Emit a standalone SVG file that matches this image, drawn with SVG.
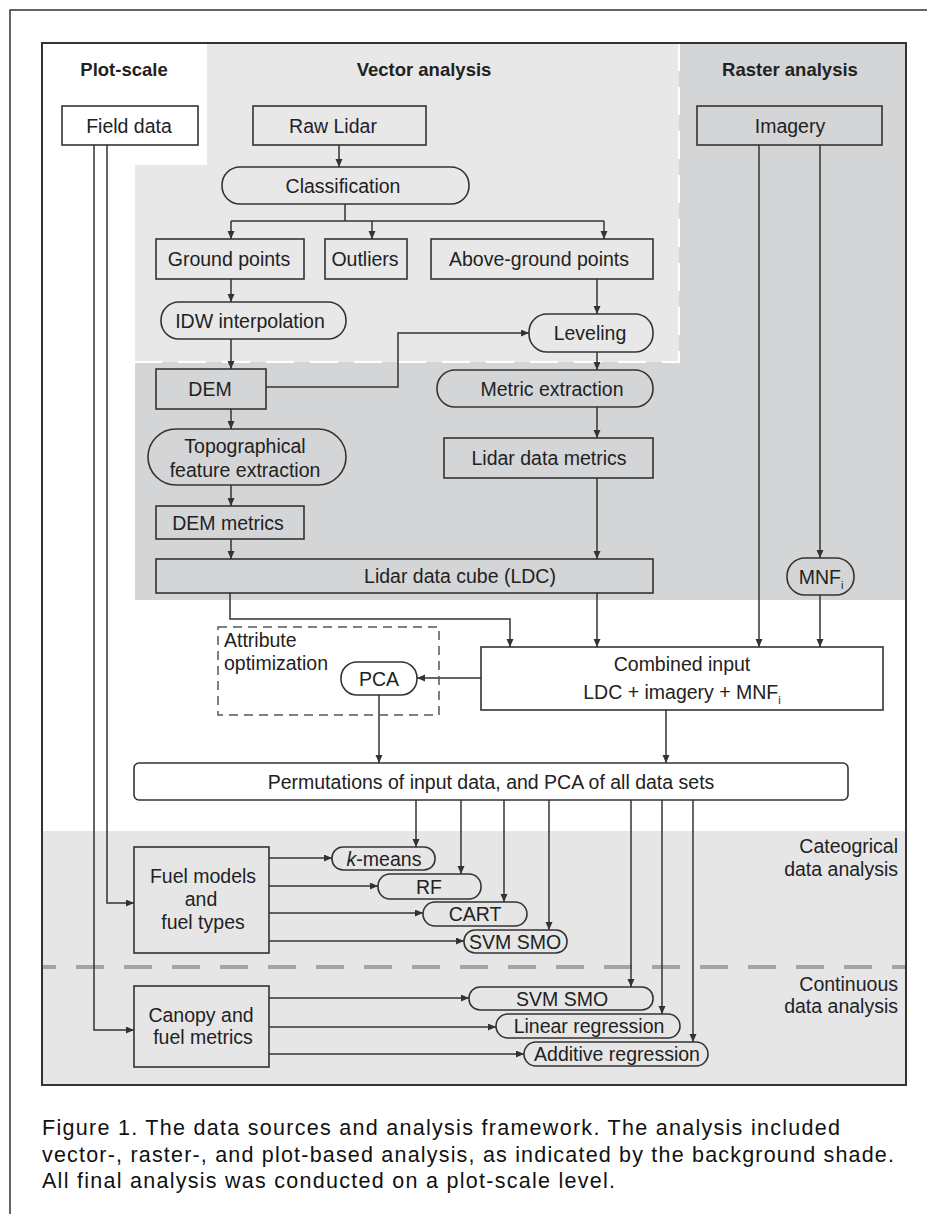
<svg xmlns="http://www.w3.org/2000/svg" width="927" height="1214" viewBox="0 0 927 1214">
<defs>
<style>
.t{font-family:"Liberation Sans",Arial,Helvetica,sans-serif;font-size:19.5px;fill:#222;text-anchor:middle}
.h{font-weight:bold;font-size:18.5px}
.l{text-anchor:start}
.r{text-anchor:end}
.bx{stroke:#333;stroke-width:1.6}
.w{fill:#fff}
.lg{fill:#e8e8e9}
.dg{fill:#d4d5d7}
.bg{fill:#e6e6e7}
.c path{stroke:#333;stroke-width:1.5;fill:none;marker-end:url(#ah)}
.c path.n{marker-end:none}
.cap{font-family:"Liberation Sans",Arial,sans-serif;font-size:21.5px;fill:#111}
</style>
<marker id="ah" markerUnits="userSpaceOnUse" markerWidth="9" markerHeight="8" refX="8" refY="3.5" orient="auto">
<path d="M0,0 L8,3.5 L0,7 Z" fill="#333"/>
</marker>
</defs>

<!-- outer frame -->
<rect x="10" y="10" width="930" height="1220" fill="#fff" stroke="#333" stroke-width="1.5"/>

<!-- backgrounds -->
<g id="backgrounds">
<rect x="42" y="43" width="864" height="1042" fill="#fff"/>
<path d="M207,43 H679 V362 H135 V165 H207 Z" fill="#e8e8e9"/>
<path d="M679,43 H906 V600 H135 V362 H679 Z" fill="#d4d5d7"/>
<rect x="42" y="831" width="864" height="254" fill="#e6e6e7"/>
<path d="M679,43 V362 H135" fill="none" stroke="#fff" stroke-width="2" stroke-dasharray="28 16"/>
<line x1="43" y1="967" x2="906" y2="967" stroke="#a3a3a5" stroke-width="4" stroke-dasharray="28 20" stroke-dashoffset="15"/>
<rect x="42" y="43" width="864" height="1042" fill="none" stroke="#333" stroke-width="2"/>
</g>

<!-- headings -->
<g id="headings">
<text class="t h" x="124" y="76">Plot-scale</text>
<text class="t h" x="424" y="76">Vector analysis</text>
<text class="t h" x="790" y="76">Raster analysis</text>
<text class="t r" x="898" y="853">Cateogrical</text>
<text class="t r" x="898" y="876">data analysis</text>
<text class="t r" x="898" y="991">Continuous</text>
<text class="t r" x="898" y="1013">data analysis</text>
</g>

<!-- connectors -->
<g id="connectors" class="c">
<path d="M339,145 V167"/>
<path class="n" d="M345,204 V221 M231,221 H604"/>
<path d="M231,221 V239"/>
<path d="M372,221 V239"/>
<path d="M604,221 V239"/>
<path d="M231,279 V302"/>
<path d="M231,339 V369"/>
<path d="M266,387 H398 V333 H529"/>
<path d="M597,279 V314"/>
<path d="M597,352 V370"/>
<path d="M597,407 V438"/>
<path d="M597,478 V559"/>
<path d="M231,409 V429"/>
<path d="M231,485 V506"/>
<path d="M231,539 V559"/>
<path d="M230,593 V619 H510 V647"/>
<path d="M597,577 V647"/>
<path d="M759,145 V647"/>
<path d="M820,145 V558"/>
<path d="M820,595 V647"/>
<path d="M481,678 H417"/>
<path d="M379,695 V763"/>
<path d="M666,710 V763"/>
<path d="M416,800 V847"/>
<path d="M461,800 V874"/>
<path d="M504,800 V902"/>
<path d="M549,800 V930"/>
<path d="M631,800 V987"/>
<path d="M662,800 V1014"/>
<path d="M693,800 V1042"/>
<path d="M269,858 H332"/>
<path d="M269,886 H378"/>
<path d="M269,913 H423"/>
<path d="M269,941 H464"/>
<path d="M269,998 H469"/>
<path d="M269,1027 H496"/>
<path d="M269,1054 H524"/>
<path d="M107,145 V903 H134"/>
<path d="M94,145 V1030 H134"/>
</g>

<!-- nodes -->
<g id="field-data"><rect class="bx w" x="62" y="106" width="136" height="39"/><text class="t" x="129" y="133">Field data</text></g>
<g id="raw-lidar"><rect class="bx lg" x="253" y="106" width="173" height="39"/><text class="t" x="333" y="133">Raw Lidar</text></g>
<g id="imagery"><rect class="bx dg" x="697" y="106" width="185" height="39"/><text class="t" x="790" y="133">Imagery</text></g>
<g id="classification"><rect class="bx lg" x="222" y="167" width="247" height="37" rx="18"/><text class="t" x="343" y="193">Classification</text></g>
<g id="ground-points"><rect class="bx lg" x="156" y="239" width="148" height="40"/><text class="t" x="229" y="266">Ground points</text></g>
<g id="outliers"><rect class="bx lg" x="325" y="239" width="82" height="40"/><text class="t" x="365" y="266">Outliers</text></g>
<g id="above-ground-points"><rect class="bx lg" x="431" y="239" width="222" height="40"/><text class="t" x="539" y="266">Above-ground points</text></g>
<g id="idw-interpolation"><rect class="bx lg" x="161" y="302" width="185" height="37" rx="18"/><text class="t" x="250" y="328">IDW interpolation</text></g>
<g id="leveling"><rect class="bx lg" x="529" y="314" width="124" height="38" rx="18"/><text class="t" x="590" y="340">Leveling</text></g>
<g id="dem"><rect class="bx dg" x="156" y="369" width="110" height="40"/><text class="t" x="210" y="396">DEM</text></g>
<g id="metric-extraction"><rect class="bx dg" x="437" y="370" width="216" height="37" rx="18"/><text class="t" x="552" y="396">Metric extraction</text></g>
<g id="topographical"><rect class="bx dg" x="148" y="429" width="198" height="56" rx="28"/><text class="t" x="245" y="453">Topographical</text><text class="t" x="245" y="477">feature extraction</text></g>
<g id="lidar-data-metrics"><rect class="bx dg" x="444" y="438" width="209" height="40"/><text class="t" x="549" y="465">Lidar data metrics</text></g>
<g id="dem-metrics"><rect class="bx dg" x="156" y="506" width="148" height="33"/><text class="t" x="228" y="530">DEM metrics</text></g>
<g id="ldc"><rect class="bx dg" x="156" y="559" width="497" height="34"/><text class="t" x="460" y="583">Lidar data cube (LDC)</text></g>
<g id="mnf"><rect class="bx dg" x="787" y="558" width="67" height="37" rx="18"/><text class="t" x="821" y="584">MNF<tspan font-size="11" dy="5">i</tspan></text></g>
<g id="attribute-optimization"><rect x="218" y="627" width="221" height="88" fill="none" stroke="#555" stroke-width="1.5" stroke-dasharray="9 6"/><text class="t l" x="224" y="647">Attribute</text><text class="t l" x="224" y="670">optimization</text></g>
<g id="pca"><rect class="bx w" x="341" y="662" width="76" height="33" rx="16"/><text class="t" x="379" y="686">PCA</text></g>
<g id="combined-input"><rect class="bx w" x="481" y="647" width="402" height="63"/><text class="t" x="682" y="671">Combined input</text><text class="t" x="682" y="699">LDC + imagery + MNF<tspan font-size="11" dy="5">i</tspan></text></g>
<g id="permutations"><rect class="bx w" x="134" y="763" width="714" height="37" rx="5"/><text class="t" x="491" y="789">Permutations of input data, and PCA of all data sets</text></g>
<g id="fuel-models"><rect class="bx bg" x="134" y="847" width="135" height="106"/><text class="t" x="203" y="883">Fuel models</text><text class="t" x="201" y="906">and</text><text class="t" x="203" y="929">fuel types</text></g>
<g id="k-means"><rect class="bx bg" x="332" y="847" width="103" height="23" rx="11"/><text class="t" x="384" y="866"><tspan font-style="italic">k</tspan>-means</text></g>
<g id="rf"><rect class="bx bg" x="378" y="874" width="103" height="25" rx="12"/><text class="t" x="429" y="894">RF</text></g>
<g id="cart"><rect class="bx bg" x="423" y="902" width="104" height="24" rx="12"/><text class="t" x="475" y="921">CART</text></g>
<g id="svm-smo-cat"><rect class="bx bg" x="464" y="930" width="103" height="23" rx="11"/><text class="t" x="515" y="949">SVM SMO</text></g>
<g id="canopy"><rect class="bx bg" x="134" y="986" width="135" height="81"/><text class="t" x="201" y="1022">Canopy and</text><text class="t" x="203" y="1044">fuel metrics</text></g>
<g id="svm-smo-cont"><rect class="bx bg" x="469" y="987" width="184" height="23" rx="11"/><text class="t" x="562" y="1006">SVM SMO</text></g>
<g id="linear-regression"><rect class="bx bg" x="496" y="1014" width="184" height="24" rx="12"/><text class="t" x="589" y="1033">Linear regression</text></g>
<g id="additive-regression"><rect class="bx bg" x="524" y="1042" width="184" height="24" rx="12"/><text class="t" x="617" y="1061">Additive regression</text></g>

<!-- caption -->
<g id="caption">
<text class="cap" x="42" y="1135" textLength="798" lengthAdjust="spacing">Figure 1. The data sources and analysis framework. The analysis included</text>
<text class="cap" x="42" y="1162" textLength="852" lengthAdjust="spacing">vector-, raster-, and plot-based analysis, as indicated by the background shade.</text>
<text class="cap" x="42" y="1188" textLength="573" lengthAdjust="spacing">All final analysis was conducted on a plot-scale level.</text>
</g>
</svg>
